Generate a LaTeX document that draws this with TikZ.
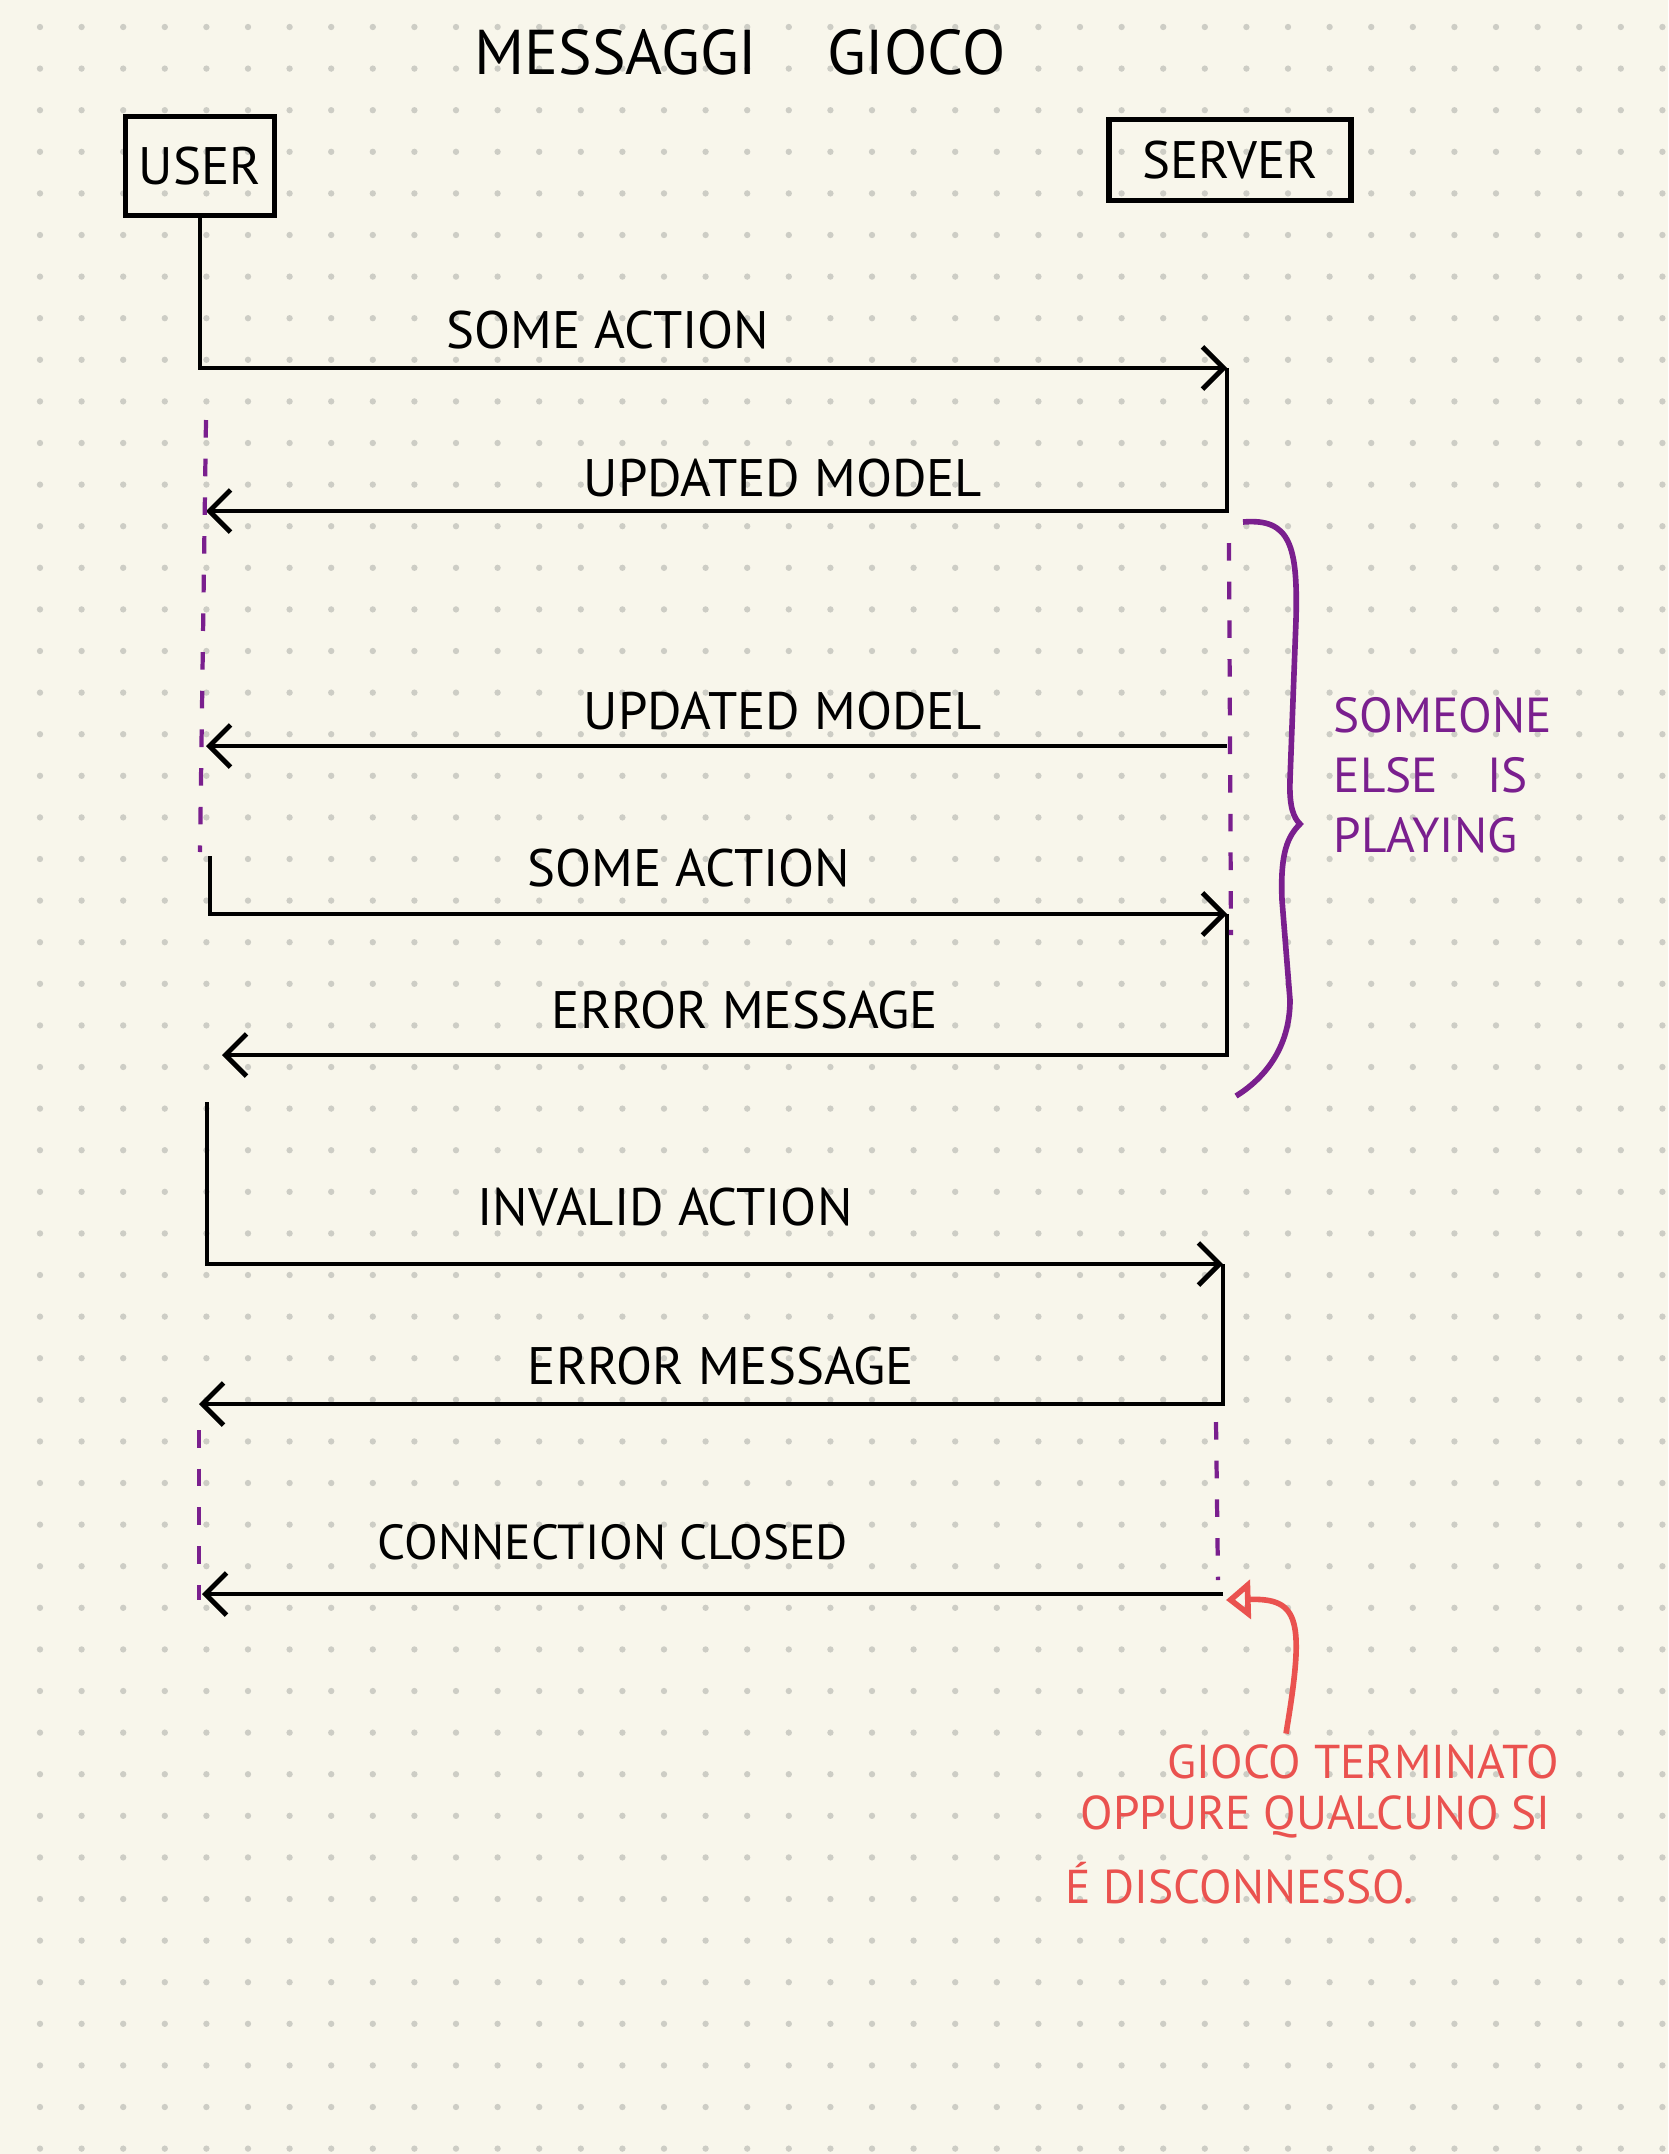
\documentclass[tikz,border=0pt]{standalone}
\usepackage{fontspec}
\setmainfont{PT Sans}
\usetikzlibrary{arrows.meta}
\definecolor{paper}{HTML}{F8F6EB}
\definecolor{gridDot}{HTML}{CDCDC5}
\definecolor{purpleInk}{HTML}{7A1F8E}
\definecolor{redInk}{HTML}{EA524F}
\begin{document}
\begin{tikzpicture}[x=0.01cm,y=-0.01cm,
  actor/.style={draw,line width=1.6pt,inner sep=0pt,font=\fontsize{15}{18}\selectfont},
  msg/.style={line width=1.4pt,-{Straight Barb[length=6pt,width=12pt,line width=1.4pt]}},
  lbl/.style={inner sep=0pt,font=\fontsize{15}{18}\selectfont},
  idle/.style={purpleInk,line width=1.2pt,dash pattern=on 5pt off 6pt},
  note/.style={anchor=west,inner sep=0pt,text=redInk,font=\fontsize{13.5}{16}\selectfont}]
% Dotted paper
\fill[paper] (0,0) rectangle (1668,2154);
\useasboundingbox (0,0) rectangle (1668,2154);
\foreach \i in {0,...,39} {
    \foreach \j in {0,...,51} {
        \fill[gridDot] (40+41.6*\i,27+41.6*\j) circle (0.9pt);
    }
}

% Title and actors
\node[inner sep=0pt,font=\fontsize{18}{22}\selectfont] (title) at (740,52) {MESSAGGI\hspace{0.7cm}GIOCO};
\node[actor,minimum width=1.49cm,minimum height=0.99cm] (user) at (200,166) {USER};
\node[actor,minimum width=2.42cm,minimum height=0.81cm] (server) at (1230,160) {SERVER};

% Message ends
\coordinate (s1) at (1227,368);
\coordinate (u2) at (206,511);
\coordinate (s3) at (1227,746);
\coordinate (u3) at (206,746);
\coordinate (u4) at (210,856);
\coordinate (s4) at (1227,914);
\coordinate (u5) at (222,1055);
\coordinate (u6) at (207,1102);
\coordinate (s6) at (1223,1264);
\coordinate (u7) at (199,1404);
\coordinate (s8) at (1223,1594);
\coordinate (u8) at (202,1594);

% Messages
\draw[msg] (user.south) |- (s1);
\draw[msg] (s1) |- (u2);
\draw[msg] (s3) -- (u3);
\draw[msg] (u4) |- (s4);
\draw[msg] (s4) |- (u5);
\draw[msg] (u6) |- (s6);
\draw[msg] (s6) |- (u7);
\draw[msg] (s8) -- (u8);

% Waiting
\draw[idle] (206,420) -- (200,852);
\draw[idle] (1229,543) -- (1231,935);
\draw[idle] (199,1430) -- (199,1600);
\draw[idle] (1216,1422) -- (1218,1580);

% Labels
\node[lbl] (l1) at (608,330) {SOME ACTION};
\node[lbl] (l2) at (783,478) {UPDATED MODEL};
\node[lbl] (l3) at (783,711) {UPDATED MODEL};
\node[lbl] (l4) at (689,868) {SOME ACTION};
\node[lbl] (l5) at (745,1010) {ERROR MESSAGE};
\node[lbl] (l6) at (665,1207) {INVALID ACTION};
\node[lbl] (l7) at (721,1366) {ERROR MESSAGE};
\node[lbl,font=\fontsize{14}{17}\selectfont] (l8) at (613,1542) {CONNECTION CLOSED};

% Someone else is playing
\draw[purpleInk,line width=1.6pt] (1243,522) .. controls (1290,518) and (1298,545) .. (1296,620)
    -- (1290,780) .. controls (1289,808) and (1294,818) .. (1300,824)
    .. controls (1288,836) and (1280,852) .. (1282,900)
    -- (1290,1000) .. controls (1290,1050) and (1262,1080) .. (1236,1096);
\node[anchor=north west,align=left,inner sep=0pt,text=purpleInk,font=\fontsize{14}{17}\selectfont] (busy) at (1333,697) {SOMEONE\\ELSE\quad IS\\PLAYING};

% End of game note
\node[note] (note1) at (1167,1762) {GIOCO TERMINATO};
\node[note] (note2) at (1080,1817) {OPPURE QUALCUNO SI};
\node[note] (note3) at (1065,1883) {É DISCONNESSO.};
\coordinate (noteStart) at (note1.north west -| 1286,0);
\coordinate (noteEnd) at (1226,1600);
\draw[redInk,line width=1.6pt,-{Triangle[open,length=7pt,width=11pt]}] ([yshift=3pt]noteStart) .. controls (1305,1620) and (1300,1598) .. (noteEnd);
\end{tikzpicture}
\end{document}
